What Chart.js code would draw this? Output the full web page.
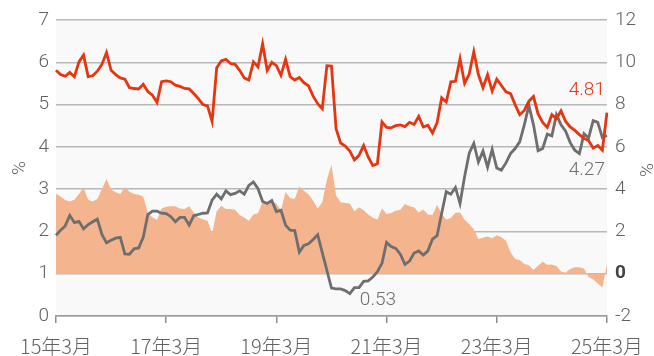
<!DOCTYPE html>
<html>
<head>
<meta charset="utf-8">
<script src="https://cdn.jsdelivr.net/npm/chart.js@4.4.1/dist/chart.umd.min.js"></script>
<style>
  html, body { margin: 0; padding: 0; background: #ffffff; }
  #wrap { width: 654px; height: 356px; }
</style>
</head>
<body>
<div id="wrap"><canvas id="c" width="654" height="356"></canvas></div>
<script>
// Monthly categories, 2015-03 .. 2025-03
const months = [];
for (let k = 0; k <= 120; k++) {
  const yy = 15 + Math.floor((2 + k) / 12);
  const mm = ((2 + k) % 12) + 1;
  months.push(yy + '年' + mm + '月');
}
const tickLabels = ['15年3月', '17年3月', '19年3月', '21年3月', '23年3月', '25年3月'];

// Left axis (%): red series
const redSeries = [
  5.81, 5.71, 5.67, 5.76, 5.66, 6.01, 6.17, 5.66, 5.68, 5.79,
  5.95, 6.23, 5.81, 5.71, 5.63, 5.60, 5.40, 5.38, 5.37, 5.48,
  5.31, 5.22, 5.05, 5.54, 5.56, 5.54, 5.46, 5.43, 5.38, 5.37,
  5.26, 5.14, 5.00, 4.97, 4.60, 5.87, 6.03, 6.07, 5.97, 5.95,
  5.81, 5.63, 5.58, 6.01, 5.89, 6.44, 5.81, 6.00, 5.92, 5.69,
  6.07, 5.66, 5.58, 5.64, 5.52, 5.44, 5.20, 5.02, 4.90, 5.92,
  5.91, 4.43, 4.09, 4.02, 3.90, 3.69, 3.80, 4.03, 3.76, 3.56,
  3.60, 4.59, 4.46, 4.45, 4.50, 4.52, 4.48, 4.58, 4.53, 4.72,
  4.47, 4.51, 4.33, 4.57, 5.16, 5.06, 5.54, 5.55, 6.08, 5.50,
  5.72, 6.25, 5.71, 5.40, 5.71, 5.32, 5.60, 5.45, 5.30, 5.26,
  5.00, 4.76, 4.86, 5.08, 5.19, 4.78, 4.58, 4.46, 4.76, 4.67,
  4.85, 4.60, 4.47, 4.39, 4.29, 4.20, 4.15, 3.97, 4.03, 3.92,
  4.81
];

// Left axis (%): gray series
const graySeries = [
  1.91, 2.03, 2.13, 2.38, 2.21, 2.24, 2.06, 2.16, 2.23, 2.29,
  1.93, 1.73, 1.79, 1.84, 1.86, 1.47, 1.46, 1.59, 1.61, 1.86,
  2.40, 2.48, 2.48, 2.43, 2.42, 2.35, 2.23, 2.33, 2.33, 2.15,
  2.37, 2.40, 2.43, 2.44, 2.74, 2.88, 2.77, 2.96, 2.87, 2.90,
  2.96, 2.88, 3.09, 3.17, 3.01, 2.71, 2.66, 2.73, 2.47, 2.50,
  2.15, 2.03, 2.02, 1.51, 1.67, 1.71, 1.81, 1.92, 1.50, 1.08,
  0.66, 0.64, 0.64, 0.60, 0.53, 0.67, 0.67, 0.82, 0.83, 0.92,
  1.05, 1.25, 1.74, 1.64, 1.60, 1.46, 1.22, 1.30, 1.49, 1.54,
  1.44, 1.54, 1.82, 1.90, 2.43, 2.94, 2.88, 3.04, 2.66, 3.30,
  3.85, 4.08, 3.64, 3.90, 3.52, 3.94, 3.50, 3.45, 3.62, 3.84,
  3.96, 4.12, 4.52, 4.98, 4.52, 3.91, 3.96, 4.30, 4.26, 4.76,
  4.52, 4.37, 4.10, 3.92, 3.84, 4.31, 4.21, 4.62, 4.58, 4.22,
  4.27
];

// Right axis (%): shaded area series
const areaSeries = [
  3.78, 3.65, 3.49, 3.41, 3.50, 3.77, 4.08, 3.50, 3.42, 3.53,
  4.01, 4.48, 3.98, 3.85, 3.77, 4.10, 3.88, 3.77, 3.74, 3.65,
  2.90, 2.66, 2.55, 3.09, 3.17, 3.19, 3.19, 3.09, 3.06, 3.19,
  2.90, 2.66, 2.58, 2.50, 1.90, 2.95, 3.22, 3.06, 3.06, 3.03,
  2.78, 2.66, 2.50, 2.80, 2.86, 3.40, 3.28, 3.42, 3.32, 3.00,
  3.86, 3.58, 3.53, 4.12, 3.92, 3.76, 3.45, 3.08, 3.38, 4.45,
  5.15, 3.70, 3.38, 3.34, 3.32, 2.95, 3.14, 3.00, 2.80, 2.65,
  2.57, 3.10, 2.82, 2.87, 2.98, 3.03, 3.30, 3.19, 3.14, 2.90,
  3.04, 2.80, 2.78, 3.26, 2.82, 2.56, 2.64, 2.88, 2.90, 2.55,
  2.35, 2.10, 1.64, 1.70, 1.76, 1.68, 1.82, 1.72, 1.56, 1.01,
  0.70, 0.65, 0.46, 0.40, 0.17, 0.38, 0.57, 0.42, 0.43, 0.36,
  0.10, 0.05, 0.22, 0.30, 0.30, 0.25, -0.15, -0.27, -0.45, -0.65,
  0.45
];

const RED = '#e6350f';
const GRAY = '#6e6e6e';
const AREA = '#f4b58e';
const TEXT = '#616161';
const NUM_FONT = 'Roboto, "Liberation Sans", sans-serif';
const CJK_FONT = '"Noto Sans CJK JP", "Noto Sans", sans-serif';

// plot background + value callouts + axis unit titles
const decorations = {
  id: 'decorations',
  beforeDraw(chart) {
    const { ctx, chartArea: a } = chart;
    ctx.save();
    ctx.fillStyle = '#f9f9f9';
    ctx.fillRect(a.left, a.top, a.right - a.left, a.bottom - a.top);
    ctx.restore();
  },
  afterDraw(chart) {
    const { ctx } = chart;
    const xs = chart.scales.x, ys = chart.scales.y;
    const last = redSeries.length - 1;
    ctx.save();
    ctx.font = '300 19px ' + NUM_FONT;
    ctx.textBaseline = 'middle';

    // last red value
    ctx.fillStyle = RED;
    ctx.textAlign = 'right';
    ctx.fillText(redSeries[last].toFixed(2), xs.getPixelForValue(last) - 2, ys.getPixelForValue(redSeries[last]) - 22);

    // last gray value
    ctx.fillStyle = GRAY;
    ctx.fillText(graySeries[last].toFixed(2), xs.getPixelForValue(last) - 2, ys.getPixelForValue(graySeries[last]) + 35);

    // gray minimum
    let minI = 0;
    graySeries.forEach((v, i) => { if (v < graySeries[minI]) minI = i; });
    ctx.textAlign = 'left';
    ctx.fillText(graySeries[minI].toFixed(2), xs.getPixelForValue(minI) + 10, ys.getPixelForValue(graySeries[minI]) + 7);

    // unit titles
    ctx.fillStyle = TEXT;
    ctx.textAlign = 'center';
    ctx.font = '300 19px ' + NUM_FONT;
    ctx.translate(20, 168);
    ctx.rotate(-Math.PI / 2);
    ctx.fillText('%', 0, 0);
    ctx.restore();

    ctx.save();
    ctx.fillStyle = TEXT;
    ctx.textAlign = 'center';
    ctx.textBaseline = 'middle';
    ctx.font = '300 19px ' + NUM_FONT;
    ctx.translate(645, 170);
    ctx.rotate(Math.PI / 2);
    ctx.fillText('%', 0, 0);
    ctx.restore();
  }
};

new Chart(document.getElementById('c'), {
  type: 'line',
  data: {
    labels: months,
    datasets: [
      {
        label: 'red',
        data: redSeries,
        yAxisID: 'y',
        borderColor: RED,
        borderWidth: 2.8,
        pointRadius: 0,
        fill: false,
        tension: 0,
        order: 1
      },
      {
        label: 'gray',
        data: graySeries,
        yAxisID: 'y',
        borderColor: GRAY,
        borderWidth: 2.8,
        pointRadius: 0,
        fill: false,
        tension: 0,
        order: 2
      },
      {
        label: 'area',
        data: areaSeries,
        yAxisID: 'y1',
        borderWidth: 0,
        borderColor: 'rgba(0,0,0,0)',
        backgroundColor: AREA,
        pointRadius: 0,
        fill: 'origin',
        tension: 0,
        order: 3
      }
    ]
  },
  options: {
    responsive: false,
    devicePixelRatio: 1,
    animation: false,
    events: [],
    layout: { padding: { top: 20, left: 0, right: 0, bottom: 0 } },
    plugins: { legend: { display: false }, tooltip: { enabled: false } },
    scales: {
      x: {
        type: 'category',
        offset: false,
        grid: { drawOnChartArea: false, drawTicks: true, tickLength: 7, color: '#8c8c8c', lineWidth: 1.5 },
        border: { display: true, color: '#9a9a9a', width: 1.5 },
        ticks: {
          autoSkip: false, maxRotation: 0, minRotation: 0, padding: 11,
          color: TEXT, font: { family: CJK_FONT, size: 20, weight: '300' }
        },
        afterBuildTicks(scale) {
          scale.ticks = scale.ticks.filter(t => tickLabels.includes(months[t.value]));
        },
        afterFit(scale) { scale.height = 40; }
      },
      y: {
        position: 'left',
        min: 0, max: 7,
        ticks: { stepSize: 1, padding: 7, color: TEXT, font: { family: NUM_FONT, size: 19, weight: '300' } },
        grid: { color: '#b8b8b8', lineWidth: 1.5, drawTicks: false },
        border: { display: false },
        afterFit(scale) { scale.width = 56; }
      },
      y1: {
        position: 'right',
        min: -2, max: 12,
        ticks: {
          stepSize: 2, padding: 8,
          color: (c) => c.tick && c.tick.value === 0 ? '#444444' : TEXT,
          font: (c) => ({ family: NUM_FONT, size: 19, weight: c.tick && c.tick.value === 0 ? 'bold' : '300' })
        },
        grid: { display: false, drawTicks: false },
        border: { display: false },
        afterFit(scale) { scale.width = 47; }
      }
    }
  },
  plugins: [decorations]
});
</script>
</body>
</html>
